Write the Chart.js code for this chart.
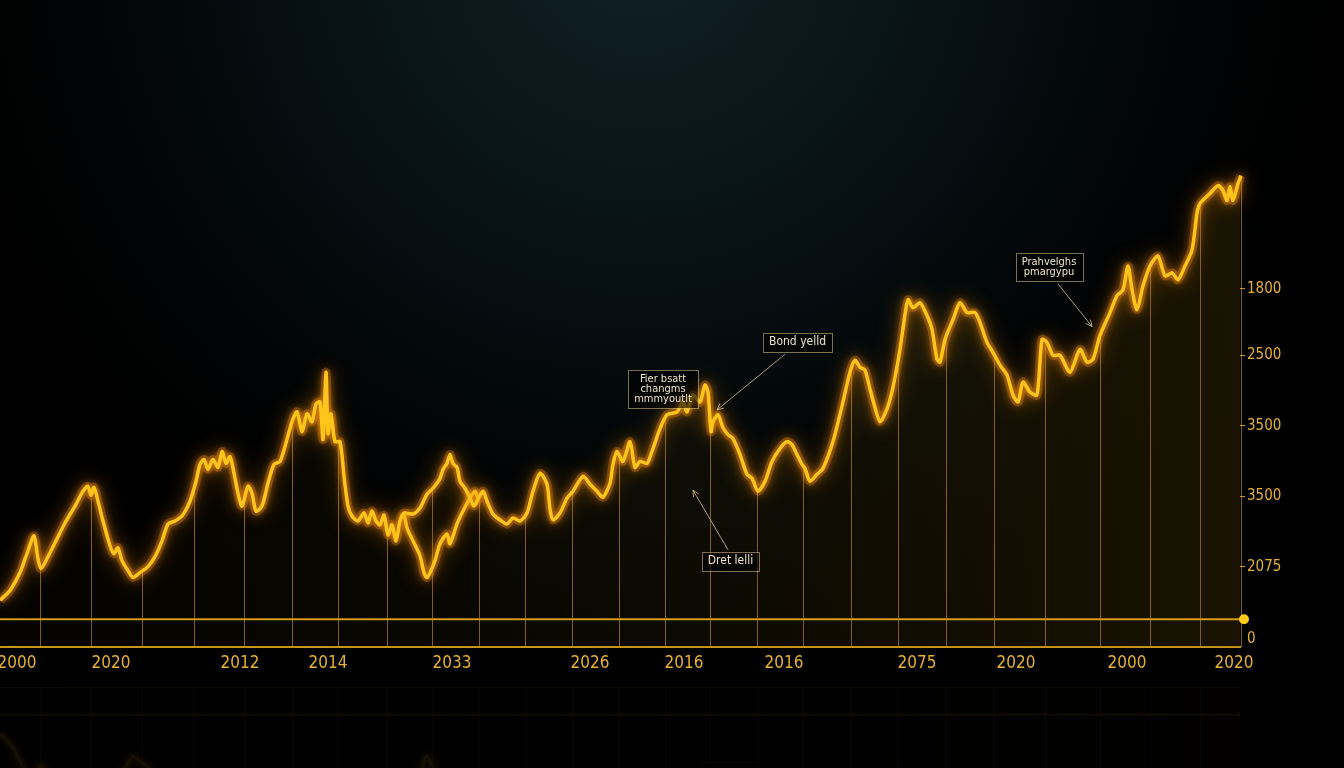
<!doctype html>
<html>
<head>
    <title>Bond yield</title>
    <script src="https://cdn.jsdelivr.net/npm/chart.js"></script>
    <style>
        html, body { margin: 0; padding: 0; background: #000; overflow: hidden; }
    </style>
</head>
<body>
    <canvas id="grafico" width="1344" height="768"></canvas>

    <script>
        // main curve (upper branch of the loop)
        var mainX = [0, 2, 4, 5.6, 6.8, 7.6, 8.2, 9.6, 11.2, 13, 15, 16.6, 17.6, 18.2, 18.8, 19.6, 20.6, 22, 22.8, 23.6,
            24.4, 25.6, 26.6, 28, 29.6, 31, 32.4, 33.6, 35, 36.4, 38, 39.2, 40, 40.8, 41.6, 42.6, 43.6, 44.4, 45.2, 46,
            46.8, 47.6, 48.4, 49.6, 50.4, 51.2, 52.4, 53.6, 54.8, 56, 57, 58.4, 59.4, 60.4, 61.4, 62.4, 63.2, 64, 64.6, 65.2,
            65.6, 66.2, 67, 68, 68.8, 69.6, 70.4, 71.6, 72.8, 73.6, 74.4, 75.2, 76, 76.8, 77.6, 78.4, 79.2, 80, 80.8, 82.6,
            84, 85.4, 86.6, 88, 88.6, 89.4, 90, 90.6, 91.4, 92, 93, 94, 94.8, 95.6, 96.6, 97.4, 98.6, 100, 101.4, 102.6,
            104, 105.4, 106.6, 108, 109.4, 110, 110.6, 112, 113.4, 114.6, 116.6, 118, 119.4, 120.6, 122, 122.6, 123.4, 124.6, 126, 127,
            128, 129.4, 130.6, 132, 133.4, 135.4, 136.6, 137.4, 138.6, 140, 141, 141.6, 142.2, 142.6, 143.6, 144.6, 145.6, 146.6, 148, 149.4,
            150.4, 151.6, 153, 154.4, 156, 157.4, 158.4, 159.4, 160.4, 161, 162, 163.4, 164.6, 166.6, 168.6, 170, 171, 172, 173, 174,
            174.8, 176, 177.4, 178.6, 180, 181, 181.6, 182.6, 184, 185.4, 186.4, 187.4, 188, 189, 190.6, 192, 193.4, 195, 196, 197.4,
            198.6, 200, 201.4, 202.6, 203.6, 204.6, 206, 207.4, 208.4, 209.4, 210.6, 212, 214, 216, 217.4, 218.6, 220, 222, 223.4, 224.6,
            225.6, 226.4, 227.4, 228.6, 230, 231.6, 233, 234.4, 235.6, 237, 238.4, 239.4, 240, 242, 243.6, 244.6, 245.4, 246, 246.6, 247.6,
            248.2];
        var mainY = [4.7, 5.7, 7.5, 9.7, 11.2, 8.9, 7.9, 9.1, 10.7, 12.5, 14.2, 15.7, 16.2, 15.3, 16.1, 14.7, 12.7, 10.2, 9.4, 10.0,
            8.7, 7.7, 7.0, 7.5, 8.1, 9.1, 10.7, 12.4, 12.7, 13.2, 14.7, 16.7, 18.4, 18.9, 17.9, 18.9, 18.1, 19.7, 18.5, 19.2,
            17.5, 15.5, 14.2, 16.2, 15.5, 13.7, 14.2, 16.5, 18.4, 18.7, 20.2, 22.7, 23.7, 21.7, 23.5, 22.7, 24.5, 24.7, 20.9, 27.7,
            21.5, 23.5, 20.7, 20.7, 17.2, 14.2, 13.2, 12.7, 13.5, 12.5, 13.7, 12.7, 12.3, 13.3, 11.3, 12.3, 10.7, 12.7, 13.5, 13.4,
            14.0, 15.4, 16.0, 17.0, 17.9, 18.5, 19.4, 18.5, 18.1, 16.7, 16.0, 15.0, 14.2, 14.9, 15.7, 14.7, 13.4, 12.8, 12.4, 13.0,
            12.7, 13.5, 15.7, 17.5, 16.4, 13.9, 12.8, 13.5, 15.0, 15.7, 17.2, 16.4, 15.7, 15.1, 16.5, 18.4, 19.7, 18.7, 20.7, 18.1,
            18.7, 18.5, 20.0, 22.0, 23.4, 23.7, 24.7, 23.7, 25.4, 24.7, 26.4, 25.7, 21.7, 22.7, 23.4, 22.1, 21.4, 21.0, 19.4, 17.4,
            17.0, 15.7, 16.7, 18.7, 20.0, 20.7, 20.4, 19.4, 18.4, 18.0, 16.7, 17.4, 18.0, 20.7, 24.7, 27.7, 28.9, 28.2, 27.9, 26.0,
            24.5, 22.7, 24.0, 26.2, 30.0, 33.5, 35.0, 34.2, 34.7, 33.4, 32.0, 29.0, 28.7, 31.0, 33.0, 34.7, 33.7, 33.7, 32.7, 30.7,
            29.7, 28.4, 27.4, 25.4, 24.7, 26.7, 25.7, 25.4, 31.0, 30.7, 29.4, 29.4, 27.7, 30.0, 28.7, 29.0, 31.4, 33.7, 35.4, 36.0,
            38.4, 36.0, 34.0, 36.4, 38.4, 39.4, 37.4, 37.7, 37.0, 38.4, 40.0, 43.7, 44.7, 45.7, 46.5, 46.0, 45.0, 46.4, 45.0, 46.7,
            47.5];

        // lower branch of the loop
        var loopX = [80.8, 81.4, 82.6, 84, 84.8, 85.4, 86.2, 87, 88, 89.4, 90, 91.4, 92.6, 94, 95, 95.6];
        var loopY = [13.5, 12.0, 10.7, 9.2, 7.5, 7.0, 7.7, 8.7, 10.4, 11.4, 10.4, 12.4, 13.7, 15.0, 15.7, 14.9];

        // flat base line with end dot
        var baseX = [0, 248.8];
        var baseY = [2.8, 2.8];

        // vertical drop lines
        var dropX = [8, 18.2, 28.4, 38.8, 48.8, 58.4, 67.6, 77.4, 86.4, 95.8, 105, 114.4, 123.8, 133, 142, 151.4,
            160.6, 170.2, 179.6, 189.2, 198.8, 209, 220, 230, 240, 248.2];

        var xTickVals = [3.4, 22.2, 48, 65.6, 90.4, 118, 136.8, 156.8, 183.4, 203.2, 225.4, 246.8];
        var xTickLabels = ['2000', '2020', '2012', '2014', '2033', '2026', '2016', '2016', '2075', '2020', '2000', '2020'];
        var yTickVals = [0.8, 8.1, 15.2, 22.3, 29.4, 36.1];
        var yTickLabels = ['0', '2075', '3500', '3500', '2500', '1800'];

        var notas = [
            { linhas: ['Fier bsatt', 'changms', 'mmmyoutlt'], x: 132.6, y: 26.0, tam: 11 },
            { linhas: ['Bond yelld'], x: 159.5, y: 30.7, tam: 12, seta: [157, 29.5, 143.4, 23.9] },
            { linhas: ['Dret lelli'], x: 146.1, y: 8.65, tam: 12, seta: [145.6, 9.8, 138.6, 15.8] },
            { linhas: ['Prahvelghs', 'pmargypu'], x: 209.8, y: 38.3, tam: 11, seta: [211.6, 36.6, 218.4, 32.3] }
        ];

        var fonte = "'Liberation Sans Narrow', 'DejaVu Sans Condensed', 'Roboto', sans-serif";

        function pontos(xs, ys) {
            return xs.map((x, i) => ({ x: x, y: ys[i] }));
        }

        // let the plot start at the very left edge of the canvas
        var encosta = {
            id: 'encosta',
            afterLayout(chart) {
                var xs = chart.scales.x;
                xs.left = 0;
                xs.width = xs.right - xs.left;
                xs.configure();
                chart.chartArea.left = 0;
                chart.chartArea.width = chart.chartArea.right;
            }
        };

        var fundo = {
            id: 'fundo',
            beforeDraw(chart) {
                var ctx = chart.ctx;
                ctx.save();
                ctx.fillStyle = '#000';
                ctx.fillRect(0, 0, chart.width, chart.height);
                var g = ctx.createRadialGradient(640, -60, 0, 640, -60, 780);
                g.addColorStop(0, '#102127');
                g.addColorStop(0.45, '#071013');
                g.addColorStop(1, 'rgba(0,0,0,0)');
                ctx.fillStyle = g;
                ctx.fillRect(0, 0, chart.width, chart.height);
                ctx.restore();
            }
        };

        var quedas = {
            id: 'quedas',
            beforeDatasetsDraw(chart) {
                var ctx = chart.ctx;
                var pts = chart.getDatasetMeta(0).data;
                var xs = chart.scales.x;
                var base = chart.chartArea.bottom;
                ctx.save();
                ctx.strokeStyle = 'rgba(220,155,24,0.6)';
                ctx.lineWidth = 1;
                dropX.forEach((v) => {
                    var px = xs.getPixelForValue(v);
                    var py = null;
                    for (var i = 0; i < pts.length - 1; i++) {
                        if (pts[i].x <= px && pts[i + 1].x >= px) {
                            var t = (px - pts[i].x) / ((pts[i + 1].x - pts[i].x) || 1);
                            py = pts[i].y + t * (pts[i + 1].y - pts[i].y);
                            break;
                        }
                    }
                    if (py == null) py = pts[pts.length - 1].y;
                    ctx.beginPath();
                    ctx.moveTo(Math.round(px) + 0.5, py);
                    ctx.lineTo(Math.round(px) + 0.5, base);
                    ctx.stroke();
                });
                ctx.restore();
            }
        };

        var brilho = {
            id: 'brilho',
            beforeDatasetDraw(chart, args) {
                var ds = chart.data.datasets[args.index];
                if (!ds.brilho) return;
                var ctx = chart.ctx;
                ctx.save();
                ctx.shadowColor = 'rgba(255,150,0,1)';
                ctx.shadowBlur = ds.brilho;
            },
            afterDatasetDraw(chart, args) {
                var ds = chart.data.datasets[args.index];
                if (!ds.brilho) return;
                chart.ctx.restore();
            }
        };

        var anotacoes = {
            id: 'anotacoes',
            afterDatasetsDraw(chart) {
                var ctx = chart.ctx;
                var xs = chart.scales.x, ys = chart.scales.y;
                ctx.save();
                notas.forEach((n) => {
                    if (n.seta) {
                        var x1 = xs.getPixelForValue(n.seta[0]), y1 = ys.getPixelForValue(n.seta[1]);
                        var x2 = xs.getPixelForValue(n.seta[2]), y2 = ys.getPixelForValue(n.seta[3]);
                        ctx.strokeStyle = 'rgba(225,205,150,0.75)';
                        ctx.lineWidth = 1;
                        ctx.beginPath();
                        ctx.moveTo(x1, y1);
                        ctx.lineTo(x2, y2);
                        var a = Math.atan2(y2 - y1, x2 - x1);
                        ctx.moveTo(x2 - 7 * Math.cos(a - 0.45), y2 - 7 * Math.sin(a - 0.45));
                        ctx.lineTo(x2, y2);
                        ctx.lineTo(x2 - 7 * Math.cos(a + 0.45), y2 - 7 * Math.sin(a + 0.45));
                        ctx.stroke();
                    }
                    ctx.font = n.tam + 'px ' + fonte;
                    var w = Math.max.apply(null, n.linhas.map(l => ctx.measureText(l).width)) + 12;
                    var lh = n.tam - 1;
                    var h = n.linhas.length * lh + 8;
                    var cx = xs.getPixelForValue(n.x), cy = ys.getPixelForValue(n.y);
                    ctx.fillStyle = 'rgba(0,0,0,0.6)';
                    ctx.fillRect(cx - w / 2, cy - h / 2, w, h);
                    ctx.strokeStyle = 'rgba(205,185,125,0.6)';
                    ctx.strokeRect(Math.round(cx - w / 2) + 0.5, Math.round(cy - h / 2) + 0.5, Math.round(w), Math.round(h));
                    ctx.fillStyle = '#eee4c4';
                    ctx.textAlign = 'center';
                    ctx.textBaseline = 'middle';
                    n.linhas.forEach((l, i) => {
                        ctx.fillText(l, cx, cy - h / 2 + 4 + lh * (i + 0.5));
                    });
                });
                ctx.restore();
            }
        };

        // faint mirror of the lower part of the plot under the axis labels
        var reflexo = {
            id: 'reflexo',
            afterDraw(chart) {
                var ctx = chart.ctx;
                var a = chart.chartArea;
                var b = a.bottom;
                ctx.save();
                ctx.globalAlpha = 0.08;
                ctx.setTransform(1, 0, 0, -1, 0, 2 * b + 40);
                ctx.drawImage(chart.canvas, 0, b - 150, a.right, 150, 0, b - 150, a.right, 150);
                ctx.restore();
            }
        };

        var linhaBase = {
            borderColor: '#ffc51c',
            borderWidth: 3.5,
            pointRadius: 0,
            tension: 0.25,
            fill: false,
            clip: false,
            brilho: 10
        };
        var halo = {
            borderColor: 'rgba(255,140,0,0.3)',
            borderWidth: 9,
            pointRadius: 0,
            tension: 0.25,
            fill: false,
            clip: false,
            brilho: 22
        };

        var grafico = new Chart(document.getElementById('grafico').getContext('2d'), {
            type: 'line',
            data: {
                datasets: [
                    Object.assign({ data: pontos(mainX, mainY) }, linhaBase),
                    Object.assign({ data: pontos(loopX, loopY) }, linhaBase),
                    Object.assign({ data: pontos(mainX, mainY) }, halo),
                    Object.assign({ data: pontos(loopX, loopY) }, halo),
                    {
                        data: pontos(baseX, baseY),
                        borderColor: '#d59b16',
                        borderWidth: 2,
                        pointRadius: [0, 5],
                        pointBackgroundColor: '#ffcc1a',
                        pointBorderWidth: 0,
                        fill: false,
                        clip: false
                    }, {
                        data: pontos(mainX, mainY),
                        borderWidth: 0,
                        pointRadius: 0,
                        tension: 0.25,
                        fill: 'origin',
                        clip: false,
                        backgroundColor: (c) => {
                            var area = c.chart.chartArea;
                            if (!area) return 'rgba(120,85,0,0.1)';
                            var g = c.chart.ctx.createLinearGradient(area.left, 0, area.right, 0);
                            g.addColorStop(0, 'rgba(110,80,0,0.04)');
                            g.addColorStop(0.6, 'rgba(120,88,5,0.1)');
                            g.addColorStop(1, 'rgba(130,95,10,0.2)');
                            return g;
                        }
                    }]
            },
            options: {
                responsive: false,
                animation: false,
                layout: { padding: 0 },
                plugins: {
                    legend: { display: false },
                    tooltip: { enabled: false }
                },
                scales: {
                    x: {
                        type: 'linear',
                        min: 0,
                        max: 248,
                        afterBuildTicks: (s) => { s.ticks = xTickVals.map(v => ({ value: v })); },
                        afterFit: (s) => { s.height = 121; s.paddingLeft = 0; s.paddingRight = 0; },
                        ticks: {
                            autoSkip: false,
                            maxRotation: 0,
                            padding: 6,
                            color: '#e6b12e',
                            font: { family: fonte, size: 17 },
                            callback: (v, i) => xTickLabels[i]
                        },
                        grid: { display: false, drawTicks: false },
                        border: { display: true, color: '#c99618', width: 2 }
                    },
                    y: {
                        position: 'right',
                        min: 0,
                        max: 64.7,
                        afterBuildTicks: (s) => { s.ticks = yTickVals.map(v => ({ value: v })); },
                        afterFit: (s) => { s.width = 104; s.paddingTop = 0; s.paddingBottom = 0; },
                        ticks: {
                            padding: 2,
                            color: '#e6b12e',
                            font: { family: fonte, size: 15 },
                            callback: (v, i) => yTickLabels[i]
                        },
                        grid: {
                            drawOnChartArea: false,
                            drawTicks: true,
                            tickLength: 5,
                            color: (c) => c.index === 0 ? 'rgba(0,0,0,0)' : '#c99618'
                        },
                        border: { display: false }
                    }
                }
            },
            plugins: [encosta, fundo, quedas, brilho, anotacoes, reflexo]
        });
    </script>
</body>
</html>
